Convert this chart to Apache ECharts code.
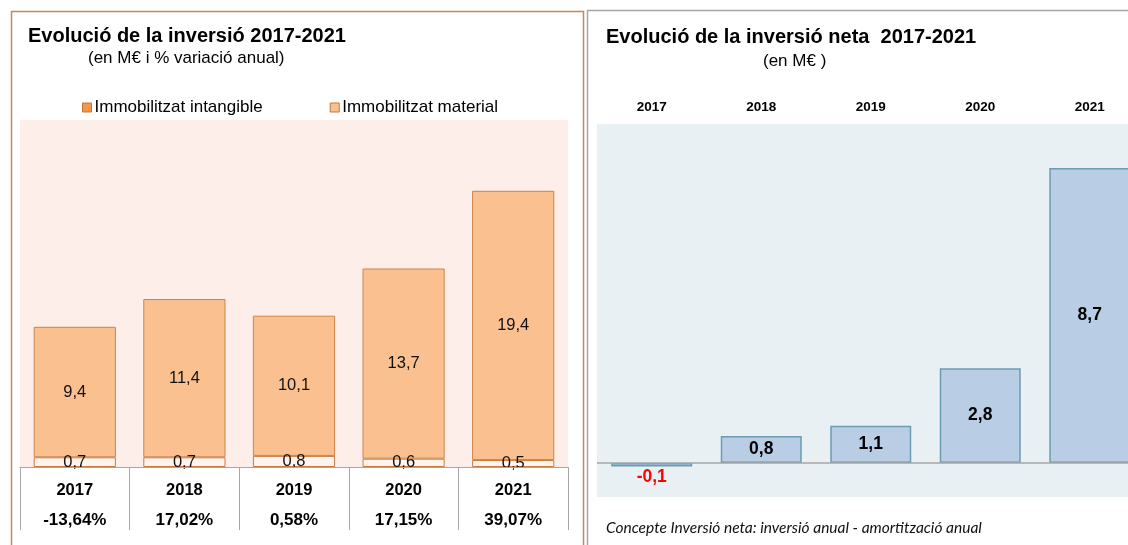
<!DOCTYPE html>
<html>
<head>
<meta charset="utf-8">
<script src="https://cdn.jsdelivr.net/npm/echarts@6/dist/echarts.min.js"></script>
<style>
  html, body { margin: 0; padding: 0; background: #fff; overflow: hidden; }
  #main { width: 1160px; height: 545px; }
</style>
</head>
<body>
<div id="main"></div>
<script>
// left chart: investment by type
const years = ['2017', '2018', '2019', '2020', '2021'];
const intangible = [0.7, 0.7, 0.8, 0.6, 0.5];
const material = [9.4, 11.4, 10.1, 13.7, 19.4];
const variation = ['-13,64%', '17,02%', '0,58%', '17,15%', '39,07%'];
// right chart: net investment
const netYears = ['2017', '2018', '2019', '2020', '2021'];
const netInvest = [-0.1, 0.8, 1.1, 2.8, 8.7];

const FONT = 'Liberation Sans, Arial, sans-serif';
const fmt = v => v.toFixed(1).replace('.', ',');

myChart = echarts.init(document.getElementById('main'));
myChart.setOption({
    animation: false,
    textStyle: { fontFamily: FONT },
    title: [
        { text: 'Evolució de la inversió 2017-2021', left: 28, top: 26, padding: 0,
          textStyle: { fontSize: 20, fontWeight: 'bold', color: '#000', fontFamily: FONT } },
        { text: '(en M€ i % variació anual)', left: 88, top: 50, padding: 0,
          textStyle: { fontSize: 17, fontWeight: 'normal', color: '#000', fontFamily: FONT } },
        { text: 'Evolució de la inversió neta  2017-2021', left: 606, top: 27, padding: 0,
          textStyle: { fontSize: 20, fontWeight: 'bold', color: '#000', fontFamily: FONT } },
        { text: '(en M€ )', left: 763, top: 53, padding: 0,
          textStyle: { fontSize: 17, fontWeight: 'normal', color: '#000', fontFamily: FONT } }
    ],
    legend: {
        left: 82, top: 99, padding: 0,
        itemWidth: 9, itemHeight: 9, itemGap: 67,
        icon: 'rect',
        textStyle: { fontSize: 17, color: '#000', fontFamily: FONT, padding: [0, 0, 0, -2] },
        data: [
            { name: 'Immobilitzat intangible', itemStyle: { color: '#F79646', borderColor: '#C0773A', borderWidth: 1 } },
            { name: 'Immobilitzat material', itemStyle: { color: '#FAC090', borderColor: '#C0773A', borderWidth: 1 } }
        ]
    },
    grid: [
        { left: 20, top: 120, width: 548, height: 347, show: true,
          backgroundColor: '#FDEEE9', borderWidth: 0 },
        { left: 597, top: 124, width: 547.5, height: 373, show: true,
          backgroundColor: '#E9F0F4', borderWidth: 0 }
    ],
    xAxis: [
        {
            type: 'category', gridIndex: 0, data: years,
            axisLine: { lineStyle: { color: '#A6A6A6', width: 1 } },
            axisTick: { show: true, length: 63, interval: 0, lineStyle: { color: '#A6A6A6' } },
            axisLabel: {
                interval: 0, margin: 8,
                formatter: (v, i) => '{y|' + v + '}\n{p|' + variation[i] + '}',
                rich: {
                    y: { fontSize: 16.5, fontWeight: 'bold', color: '#000', lineHeight: 30, fontFamily: FONT },
                    p: { fontSize: 17, fontWeight: 'bold', color: '#000', lineHeight: 30, fontFamily: FONT }
                }
            },
            z: 5
        },
        {
            type: 'category', gridIndex: 1, data: netYears, position: 'top',
            axisLine: { show: false, onZero: false },
            axisTick: { show: false },
            axisLabel: { interval: 0, margin: 10, fontSize: 13.5, fontWeight: 'bold', color: '#000', fontFamily: FONT }
        }
    ],
    yAxis: [
        { type: 'value', gridIndex: 0, min: 0, max: 25, show: false, splitLine: { show: false } },
        { type: 'value', gridIndex: 1, min: -1, max: 10, show: false, splitLine: { show: false } }
    ],
    series: [
        {
            name: 'Immobilitzat intangible', type: 'bar', stack: 'inv',
            xAxisIndex: 0, yAxisIndex: 0,
            barCategoryGap: '25%',
            data: intangible,
            itemStyle: { color: '#FEF4EF', borderColor: '#C97A3C', borderWidth: 1 },
            label: { show: true, position: 'inside', fontSize: 16.5, color: '#111', fontFamily: FONT,
                     formatter: p => fmt(p.value) },
            z: 3
        },
        {
            name: 'Immobilitzat material', type: 'bar', stack: 'inv',
            xAxisIndex: 0, yAxisIndex: 0,
            barCategoryGap: '25%',
            data: material,
            itemStyle: { color: '#FAC090', borderColor: '#CD8448', borderWidth: 1 },
            label: { show: true, position: 'inside', fontSize: 16.5, color: '#111', fontFamily: FONT,
                     formatter: p => fmt(p.value) },
            z: 3
        },
        {
            name: 'Inversió neta', type: 'bar',
            xAxisIndex: 1, yAxisIndex: 1,
            barWidth: 81,
            data: netInvest.map(v => v < 0
                ? { value: v, label: { position: 'bottom', distance: 2, color: '#FF0000' } }
                : v),
            itemStyle: { color: '#B9CDE5', borderColor: '#6C9CB2', borderWidth: 1.5 },
            label: { show: true, position: 'inside', fontSize: 17.5, fontWeight: 'bold', color: '#000',
                     fontFamily: FONT, formatter: p => fmt(p.value) },
            markLine: {
                silent: true, symbol: 'none', label: { show: false },
                lineStyle: { color: '#A6A6A6', width: 1.5, type: 'solid' },
                data: [{ yAxis: 0 }]
            },
            z: 3
        }
    ],
    graphic: [
        { type: 'rect', shape: { x: 11.5, y: 11.5, width: 572, height: 600 },
          style: { fill: 'none', stroke: '#C5895A', lineWidth: 1.5 }, silent: true },
        { type: 'rect', shape: { x: 587.5, y: 10.5, width: 600, height: 600 },
          style: { fill: 'none', stroke: '#A6A6A6', lineWidth: 1.5 }, silent: true },
        { type: 'text', left: 606, top: 520,
          style: { text: 'Concepte Inversió neta: inversió anual - amortització anual',
                   fontSize: 15.5, fontStyle: 'italic', fontFamily: 'Lato, Open Sans, sans-serif', fill: '#111' } }
    ]
});
</script>
</body>
</html>
